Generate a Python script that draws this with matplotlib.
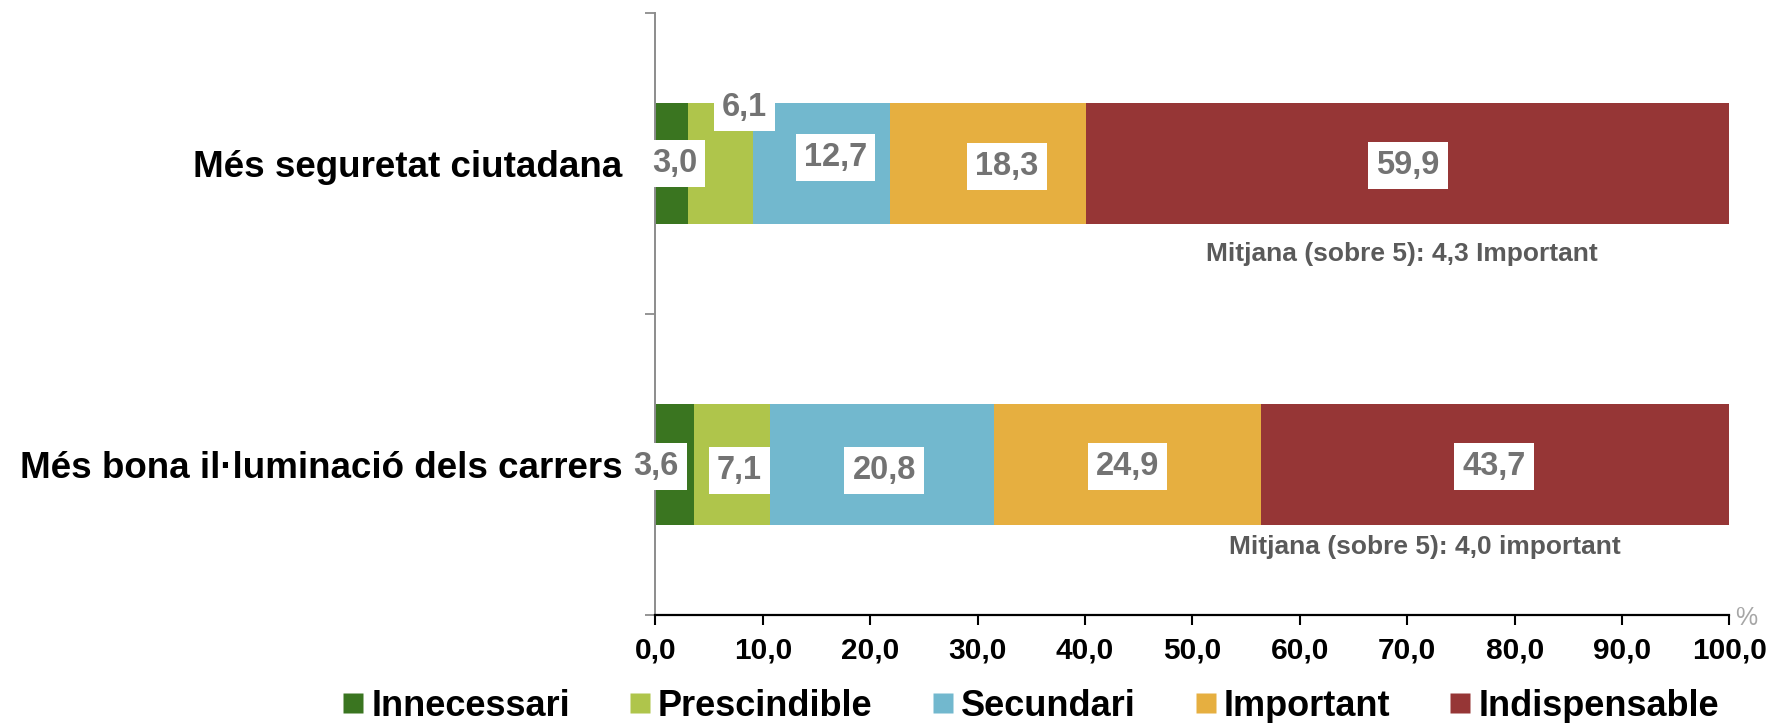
import matplotlib
matplotlib.use("Agg")
import matplotlib.pyplot as plt
from matplotlib.lines import Line2D
from matplotlib.ticker import FixedLocator, FuncFormatter

# ---- data -------------------------------------------------------------
categories = ["Més seguretat ciutadana", "Més bona il·luminació dels carrers"]
series_names = ["Innecessari", "Prescindible", "Secundari", "Important", "Indispensable"]
innecessari = [3.0, 3.6]
prescindible = [6.1, 7.1]
secundari = [12.7, 20.8]
important = [18.3, 24.9]
indispensable = [59.9, 43.7]
mean_notes = ["Mitjana (sobre 5): 4,3 Important", "Mitjana (sobre 5): 4,0 important"]
x_ticks = [0, 10, 20, 30, 40, 50, 60, 70, 80, 90, 100]

# ---- style ------------------------------------------------------------
colors = ["#3A7520", "#AFC54B", "#72B8CE", "#E6AF40", "#963636"]
label_grey = "#737373"
note_grey = "#5A5A5A"
plt.rcParams["font.family"] = ["Liberation Sans", "DejaVu Sans"]
plt.rcParams["font.weight"] = "bold"

def comma(v):
    return f"{v:.1f}".replace(".", ",")

# per-label nudges in pixels (dx right, dy down), one row per category
label_nudges = [
    [(3, 0), (24, -56), (14, -6), (19, 3), (0, 2)],
    [(-19, 2), (7, 6), (2, 6), (0, 2), (-2, 2)],
]
y_pos = [1, 0]
bar_h = 0.4

fig = plt.figure(figsize=(17.72, 7.23), dpi=100)
ax = fig.add_axes([0.3699, 0.14938, 0.60609, 0.83264])

series = [innecessari, prescindible, secundari, important, indispensable]
lefts = [0.0] * len(categories)
for s, (vals, col) in enumerate(zip(series, colors)):
    ax.barh(y_pos, vals, left=lefts, height=bar_h, color=col,
            edgecolor="none", zorder=2)
    for j, v in enumerate(vals):
        dx, dy = label_nudges[j][s]
        ax.annotate(comma(v), (lefts[j] + v / 2, y_pos[j]),
                    xytext=(dx, -dy), textcoords="offset pixels",
                    ha="center", va="center", fontsize=23.5,
                    fontweight="bold", color=label_grey, zorder=5,
                    bbox=dict(boxstyle="square,pad=0.25", fc="white",
                              ec="none"))
    lefts = [l + v for l, v in zip(lefts, vals)]

# mean notes under each bar
note_pos = [(69.46, 0.699), (71.6, -0.274)]
for (nx, ny), txt in zip(note_pos, mean_notes):
    ax.text(nx, ny, txt, ha="center", va="center", fontsize=19,
            fontweight="bold", color=note_grey)

# axes
ax.set_xlim(0, 100)
ax.set_ylim(-0.5, 1.5)
ax.xaxis.set_major_locator(FixedLocator(x_ticks))
ax.xaxis.set_major_formatter(FuncFormatter(lambda v, p: comma(v)))
ax.set_yticks(y_pos)
ax.set_yticklabels(categories)
ax.yaxis.set_minor_locator(FixedLocator([-0.5, 0.5, 1.5]))

ax.tick_params(axis="y", which="major", length=0, pad=23.8,
               labelsize=26.5, labelcolor="black")
ax.tick_params(axis="y", which="minor", length=7.2, width=1.3,
               color="#8C8C8C", direction="out")
ax.tick_params(axis="x", which="major", length=7.2, width=1.5,
               color="black", direction="out", pad=8,
               labelsize=21.5, labelcolor="black")
for lab in ax.get_xticklabels() + ax.get_yticklabels():
    lab.set_fontweight("bold")

for side in ("top", "right"):
    ax.spines[side].set_visible(False)
ax.spines["left"].set_color("#8C8C8C")
ax.spines["left"].set_linewidth(1.4)
ax.spines["bottom"].set_color("black")
ax.spines["bottom"].set_linewidth(1.6)

fig.text(1746 / 1772, 1 - 618 / 723, "%", ha="center", va="center",
         fontsize=18, fontweight="normal", color="#A6A6A6")

handles = [Line2D([], [], marker="s", linestyle="none", markersize=14.4,
                  markerfacecolor=c, markeredgecolor="none", label=n)
           for c, n in zip(colors, series_names)]
fig.legend(handles=handles, ncol=5, loc="center",
           bbox_to_anchor=(0.5819, 1 - 706 / 723), frameon=False,
           prop=dict(size=26, weight="bold"), handlelength=0.55,
           handletextpad=0.22, columnspacing=1.67, borderpad=0,
           borderaxespad=0)

fig.savefig("out.png", dpi=100, facecolor="white")
